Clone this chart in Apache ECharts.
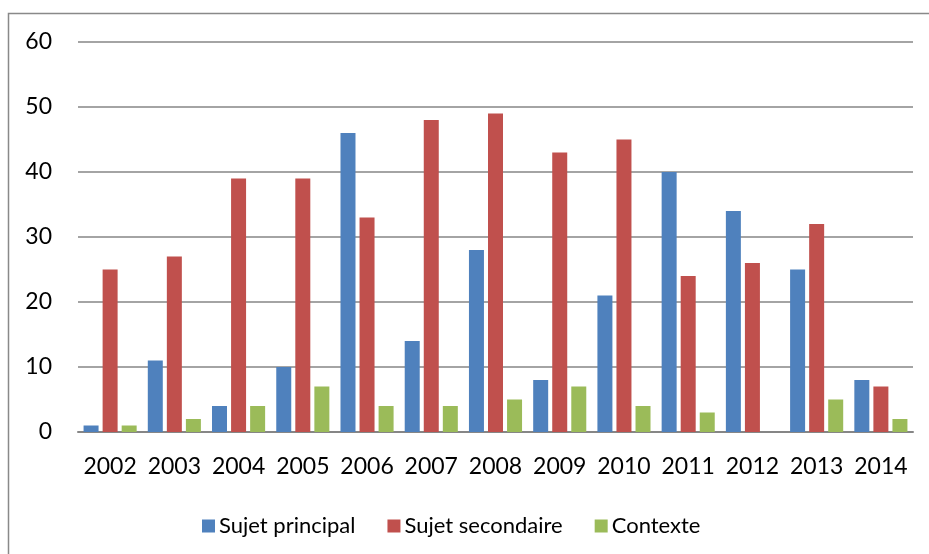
<!DOCTYPE html>
<html><head><meta charset="utf-8">
<script src="https://cdn.jsdelivr.net/npm/echarts@6/dist/echarts.min.js"></script>
<style>html,body{margin:0;padding:0;background:#fff}#c{width:929px;height:554px}</style>
</head><body><div id="c"></div>
<script>
const years = ['2002','2003','2004','2005','2006','2007','2008','2009','2010','2011','2012','2013','2014'];
const sujetPrincipal = [1, 11, 4, 10, 46, 14, 28, 8, 21, 40, 34, 25, 8];
const sujetSecondaire = [25, 27, 39, 39, 33, 48, 49, 43, 45, 24, 26, 32, 7];
const contexte = [1, 2, 4, 7, 4, 4, 5, 7, 4, 3, 0, 5, 2];
const seriesNames = ['Sujet principal', 'Sujet secondaire', 'Contexte'];
const colors = ['#4F81BD', '#C0504D', '#9BBB59'];

const font = 'Lato, "Liberation Sans", sans-serif';
const chart = echarts.init(document.getElementById('c'), null, {renderer: 'canvas'});
const mk = (name, data, i) => ({
  name, type: 'bar', data,
  barWidth: 15, barGap: '27%',
  itemStyle: {color: colors[i]},
  animation: false
});
chart.setOption({
  animation: false,
  graphic: [{
    type: 'rect', silent: true,
    shape: {x: 8.5, y: 13.5, width: 1000, height: 1000},
    style: {fill: null, stroke: '#898989', lineWidth: 1.5}
  }],
  grid: {left: 78, right: 16, top: 42, bottom: 122, containLabel: false},
  legend: {
    left: 197, top: 510,
    itemWidth: 13, itemHeight: 13, itemGap: 32,
    icon: 'rect',
    textStyle: {fontFamily: font, fontSize: 22, color: '#000', padding: [0,0,0,-1]},
    data: seriesNames
  },
  xAxis: {
    type: 'category', data: years,
    axisLine: {lineStyle: {color: '#868686', width: 2}},
    axisTick: {show: false},
    axisLabel: {fontFamily: font, fontSize: 23, color: '#000', margin: 23, interval: 0}
  },
  yAxis: {
    type: 'value', min: 0, max: 60, interval: 10,
    axisLine: {show: false}, axisTick: {show: false},
    splitLine: {lineStyle: {color: '#868686', width: 1.5}},
    axisLabel: {fontFamily: font, fontSize: 23, color: '#000', margin: 26}
  },
  series: [
    mk(seriesNames[0], sujetPrincipal, 0),
    mk(seriesNames[1], sujetSecondaire, 1),
    mk(seriesNames[2], contexte, 2)
  ]
});
</script></body></html>
